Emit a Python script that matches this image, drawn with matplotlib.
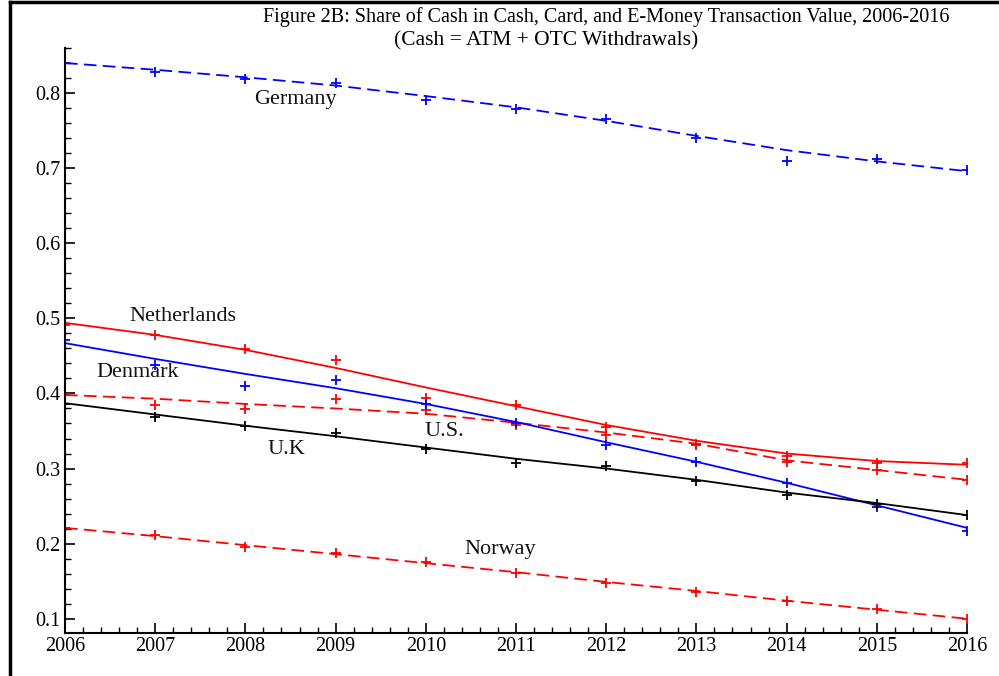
import numpy as np
import matplotlib
matplotlib.use("Agg")
import matplotlib.pyplot as plt
from matplotlib.ticker import MultipleLocator
from matplotlib.lines import Line2D

years = np.arange(2006, 2017)

# observed data points (+ markers)
germany = [0.840, 0.828, 0.819, 0.814, 0.791, 0.779, 0.766, 0.740, 0.710, 0.712, 0.698]
netherlands = [0.491, 0.478, 0.459, 0.444, 0.394, 0.384, 0.355, 0.333, 0.317, 0.308, 0.307]
us = [0.399, 0.385, 0.379, 0.392, 0.378, 0.358, 0.345, 0.331, 0.309, 0.298, 0.285]
denmark = [0.471, 0.438, 0.410, 0.418, 0.386, 0.361, 0.332, 0.309, 0.281, 0.249, 0.217]
uk = [0.386, 0.368, 0.356, 0.347, 0.326, 0.308, 0.304, 0.284, 0.265, 0.253, 0.238]
norway = [0.221, 0.211, 0.196, 0.187, 0.175, 0.161, 0.148, 0.136, 0.124, 0.113, 0.100]

# fitted trend lines, read at each year
germany_trend = [0.840, 0.831, 0.821, 0.810, 0.796, 0.781, 0.763, 0.743, 0.724, 0.709, 0.696]
netherlands_trend = [0.494, 0.478, 0.458, 0.434, 0.408, 0.383, 0.358, 0.337, 0.320, 0.310, 0.305]
us_trend = [0.398, 0.393, 0.386, 0.380, 0.373, 0.361, 0.348, 0.333, 0.311, 0.298, 0.285]
denmark_trend = [0.467, 0.446, 0.426, 0.407, 0.386, 0.362, 0.335, 0.309, 0.281, 0.251, 0.221]
uk_trend = [0.387, 0.372, 0.357, 0.343, 0.328, 0.313, 0.300, 0.285, 0.268, 0.254, 0.238]
norway_trend = [0.221, 0.210, 0.198, 0.186, 0.174, 0.162, 0.149, 0.137, 0.124, 0.112, 0.100]

series = [
    ("Germany", germany, germany_trend, "#0000ff", "dashed", (2008.55, 0.791)),
    ("Netherlands", netherlands, netherlands_trend, "#ff0000", "solid", (2007.31, 0.502)),
    ("U.S.", us, us_trend, "#ff0000", "dashed", (2010.21, 0.349)),
    ("Denmark", denmark, denmark_trend, "#0000ff", "solid", (2006.80, 0.428)),
    ("U.K", uk, uk_trend, "#000000", "solid", (2008.46, 0.325)),
    ("Norway", norway, norway_trend, "#ff0000", "dashed", (2010.82, 0.192)),
]

title1 = "Figure 2B: Share of Cash in Cash, Card, and E-Money Transaction Value, 2006-2016"
title2 = "(Cash = ATM + OTC Withdrawals)"

plt.rcParams['font.family'] = ['Liberation Serif', 'DejaVu Serif']

fig = plt.figure(figsize=(9.99, 6.76), dpi=100)
ax = fig.add_axes([65/999, 1-633/676, (967-65)/999, (633-48)/676])

for name, vals, trend, col, ls, lpos in series:
    line, = ax.plot(years, trend, color=col, lw=1.3)
    if ls == "dashed":
        line.set_dashes((7, 3.5))
    ax.plot(years, vals, linestyle='none', marker='+', color=col, ms=7.5, mew=1.3)
    ax.text(lpos[0], lpos[1], name, ha='center', va='center', fontsize=16, color='#111111')

ax.set_xlim(2006, 2016)
ax.set_ylim(0.081, 0.860)
ax.xaxis.set_major_locator(MultipleLocator(1))
ax.xaxis.set_minor_locator(MultipleLocator(0.2))
ax.yaxis.set_minor_locator(MultipleLocator(0.02))
ax.set_yticks(np.round(np.arange(0.1, 0.81, 0.1), 1))
ax.set_yticklabels(["0.1", "0.2", "0.3", "0.4", "0.5", "0.6", "0.7", "0.8"])
ax.tick_params(which='major', direction='in', length=7, width=1.2, labelsize=14.5, pad=3)
ax.tick_params(which='minor', direction='in', length=4, width=1.0)
for s in ['top', 'right']:
    ax.spines[s].set_visible(False)
for s in ['left', 'bottom']:
    ax.spines[s].set_linewidth(1.5)
ax.patch.set_alpha(0)

fig.text(606/999, 1-17/676, title1, ha='center', va='center', fontsize=14.5)
fig.text(546/999, 1-41/676, title2, ha='center', va='center', fontsize=15.5)

fig.add_artist(Line2D([10/999, 10/999], [0, 1-2/676], color='black', lw=2.5, transform=fig.transFigure))
fig.add_artist(Line2D([10/999, 1], [1-2/676, 1-2/676], color='black', lw=2.5, transform=fig.transFigure))

fig.savefig("out.png", dpi=100)
